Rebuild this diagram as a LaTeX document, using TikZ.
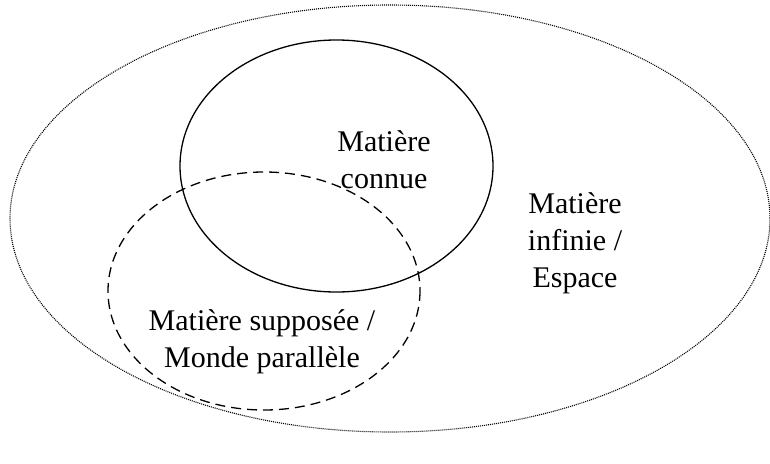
\documentclass[tikz,border=0pt]{standalone}
\usepackage{fontspec}
\setmainfont{Liberation Serif}
\usepackage{tikz}
\usetikzlibrary{positioning}

\begin{document}
\begin{tikzpicture}[x=1pt,y=-1pt,font=\fontsize{30}{37}\selectfont,
  label/.style={align=center,inner sep=0pt}]
  \useasboundingbox (0,0) rectangle (770,463);
  \draw[line width=1.1pt,dash pattern=on 1pt off 1pt] (390,218.5) ellipse (380 and 213.5);
  \draw[line width=1.3pt] (336.5,166) ellipse (156.5 and 126);
  \draw[line width=1.3pt,dash pattern=on 10pt off 6pt] (264,291) ellipse (156 and 119);
  \node[label] (connue) at (384,160) {Matière\\connue};
  \node[label] (infinie) at (575,243) {Matière\\infinie /\\Espace};
  \node[label] (suppose) at (262,342) {Matière supposée /\\Monde parallèle};
\end{tikzpicture}
\end{document}
